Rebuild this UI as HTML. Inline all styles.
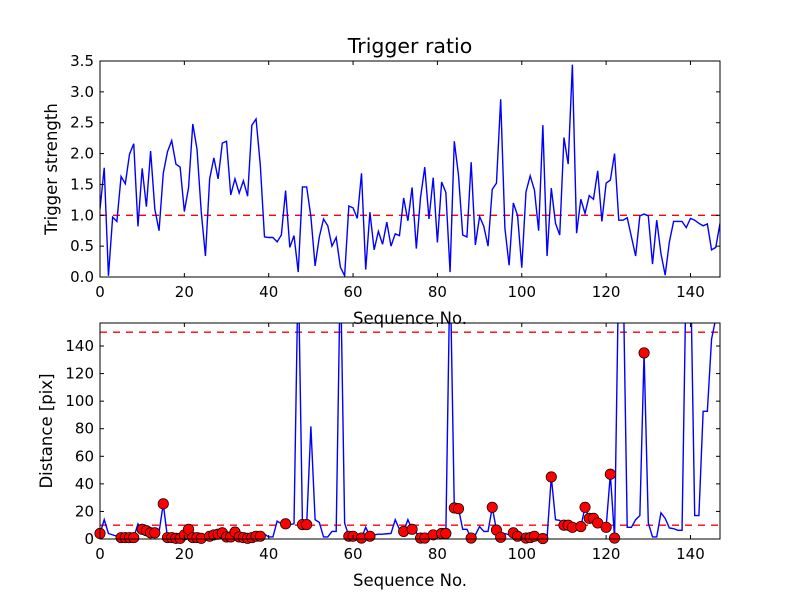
<!DOCTYPE html>
<html><head><meta charset="utf-8"><style>
html,body{margin:0;padding:0;background:#fff;}
svg{display:block;font-family:"DejaVu Sans","Liberation Sans",sans-serif;}
</style></head><body>
<svg id="fig" width="800" height="600" viewBox="0 0 800 600">
<defs>
<clipPath id="c1"><rect x="100" y="61" width="620" height="216"/></clipPath>
<clipPath id="c2"><rect x="100" y="323" width="620" height="216"/></clipPath>
</defs>
<rect width="800" height="600" fill="#fff"/>
<g id="g1"></g>
<g id="g2"></g>
</svg>
<script>
const ratioValues = [1.1,1.77,0.02,0.97,0.9,1.63,1.51,1.99,2.16,0.82,1.76,1.14,2.04,1.1,0.75,1.68,2.03,2.21,1.83,1.78,1.06,1.45,2.48,2.07,1.06,0.34,1.59,1.93,1.59,2.17,2.2,1.33,1.59,1.36,1.56,1.31,2.46,2.56,1.82,0.65,0.64,0.64,0.57,0.68,1.4,0.48,0.67,0.08,1.46,1.46,0.98,0.18,0.65,0.94,0.83,0.5,0.64,0.16,0.02,1.15,1.12,0.95,1.68,0.12,1.05,0.44,0.74,0.53,0.89,0.5,0.7,0.67,1.28,0.91,1.45,0.46,1.29,1.78,0.94,1.61,0.56,1.54,1.37,0.08,2.2,1.65,0.68,0.65,1.86,0.52,0.98,0.82,0.5,1.42,1.52,2.88,0.79,0.19,1.2,1.0,0.15,1.38,1.64,1.41,0.75,2.46,0.34,1.44,0.87,0.68,2.26,1.83,3.44,0.71,1.26,1.03,1.32,1.26,1.72,0.9,1.52,1.57,2.0,0.92,0.92,0.96,0.65,0.34,0.99,1.02,0.99,0.21,0.92,0.38,0.03,0.57,0.9,0.9,0.9,0.8,0.95,0.92,0.87,0.83,0.86,0.44,0.48,0.87];
const distValues = [4,14,4,3,2,1,1,1,1,11,7,6,4.5,4.5,5,25.5,1,1,0.5,0.5,3,7,1,1,0.5,1,2,3,3.5,4.5,1.5,1.5,5,1.5,1,0.5,1,2,2,3.5,1.5,1.5,13,11,11,10.5,11,200,10.5,10.5,81.7,14,12,1.5,1.5,5.5,5.5,200,11.6,2,2,1,0.7,8.5,2,3,3.5,3.5,3.8,4,14,7,5.5,14,7,4.5,0.7,0.7,1,3,3,4,4,200,22.5,22,7,7,0.7,3,9,5.5,5.5,23,6.5,1.2,4,3,4.5,2,1,0.7,1,2,1,0.3,1,45,14,13.5,10,10,8.5,8,9,23,15,15,11.6,10,8.5,47,0.7,200,200,8.5,8.5,14,17,135,11.6,1.5,1.5,19,15,8,7.5,6.3,6.3,200,200,17,17,92.6,92.6,145,160,170];
const distMarked = [1,0,0,0,0,1,1,1,1,0,1,1,1,1,0,1,1,1,1,1,1,1,1,1,1,0,1,1,1,1,1,1,1,1,1,1,1,1,1,0,0,0,0,0,1,0,0,0,1,1,0,0,0,0,0,0,0,0,0,1,1,0,1,0,1,0,0,0,0,0,0,0,1,0,1,0,1,1,0,1,0,1,1,0,1,1,0,0,1,0,0,0,0,1,1,1,0,0,1,1,0,1,1,1,0,1,0,1,0,0,1,1,1,0,1,1,1,1,1,0,1,1,1,0,0,0,0,0,0,1,0,0,0,0,0,0,0,0,0,0,0,0,0,0,0,0,0,0];
const xTicks = [0,20,40,60,80,100,120,140];
const yTicksTop = [0,0.5,1,1.5,2,2.5,3,3.5];
const yTicksTopLabels = ["0.0","0.5","1.0","1.5","2.0","2.5","3.0","3.5"];
const yTicksBottom = [0,20,40,60,80,100,120,140];
const refTop = [1];
const refBottom = [10,150];

const NS="http://www.w3.org/2000/svg";
function mk(parent,tag,attrs,name,text){const e=document.createElementNS(NS,tag);for(const k in attrs)e.setAttribute(k,attrs[k]);


if(text!==undefined)e.textContent=text;parent.appendChild(e);return e;}
const L=100,R=720,XMAX=147;
const sx=v=>L+(v/XMAX)*(R-L);

function panel(g,top,bot,ymax,vals,yt,ytl,refs,clip,ylabel,ylx,marked){
  const sy=v=>bot-(v/ymax)*(bot-top);
  refs.forEach(r=>mk(g,'line',{x1:L,x2:R,y1:sy(r),y2:sy(r),stroke:'#f00','stroke-width':1.4,'stroke-dasharray':'7,6'},'reference-line'));
  let d=vals.map((v,i)=>(i?'L':'M')+sx(i).toFixed(2)+' '+sy(v).toFixed(2)).join(' ');
  mk(g,'path',{d:d,fill:'none',stroke:'#00f','stroke-width':1.4,'clip-path':'url(#'+clip+')'},'series-line');
  if(marked){vals.forEach((v,i)=>{if(marked[i])mk(g,'circle',{cx:sx(i),cy:sy(v),r:5.2,fill:'#f00',stroke:'#000','stroke-width':0.7},'data-marker');});}
  mk(g,'rect',{x:L,y:top,width:R-L,height:bot-top,fill:'none',stroke:'#000','stroke-width':1},'axes-frame');
  xTicks.forEach(t=>{const x=sx(t);
    mk(g,'line',{x1:x,x2:x,y1:bot,y2:bot-4,stroke:'#000'},'x-tick');
    mk(g,'line',{x1:x,x2:x,y1:top,y2:top+4,stroke:'#000'},'x-tick');
    mk(g,'text',{x:x,y:bot+20,'text-anchor':'middle','font-size':15},'x-tick-label',String(t));});
  yt.forEach((t,i)=>{const y=sy(t);
    mk(g,'line',{x1:L,x2:L+4,y1:y,y2:y,stroke:'#000'},'y-tick');
    mk(g,'line',{x1:R,x2:R-4,y1:y,y2:y,stroke:'#000'},'y-tick');
    mk(g,'text',{x:L-6,y:y+5,'text-anchor':'end','font-size':15},'y-tick-label',ytl[i]);});
  mk(g,'text',{x:410,y:bot+47,'text-anchor':'middle','font-size':16.5},'x-axis-title','Sequence No.');
  mk(g,'text',{x:0,y:0,'text-anchor':'middle','font-size':16.5,transform:'translate('+ylx+','+((top+bot)/2)+') rotate(-90)'},'y-axis-title',ylabel);
}
const g1=document.getElementById('g1'),g2=document.getElementById('g2');
mk(g1,'text',{x:410,y:53,'text-anchor':'middle','font-size':20.5},'chart-title','Trigger ratio');
panel(g1,61,277,3.5,ratioValues,yTicksTop,yTicksTopLabels,refTop,'c1','Trigger strength',57,null);
panel(g2,323,539,156.7,distValues,yTicksBottom,yTicksBottom.map(String),refBottom,'c2','Distance [pix]',52,distMarked);
</script>
</body></html>
